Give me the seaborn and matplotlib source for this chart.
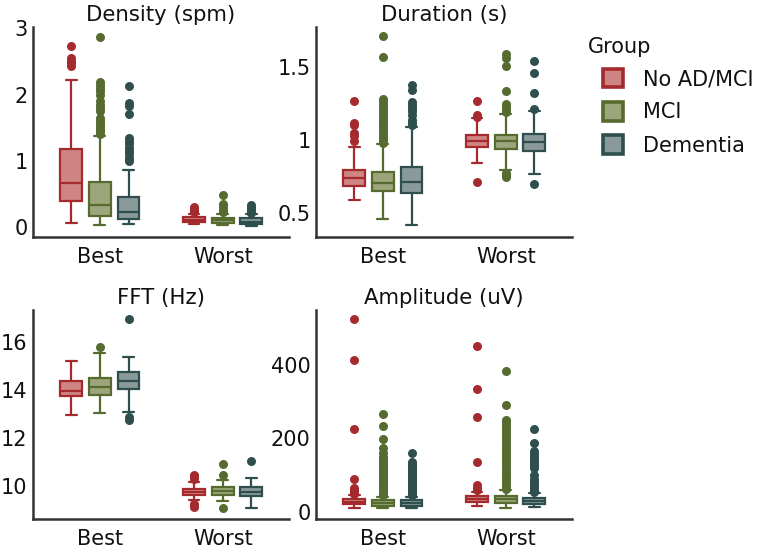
import numpy as np
import pandas as pd
import matplotlib
matplotlib.use("Agg")
import matplotlib.pyplot as plt
from matplotlib.patches import Patch
import seaborn as sns

# ---------------- data ----------------
groups = ["No AD/MCI", "MCI", "Dementia"]
conditions = ["Best", "Worst"]
edge_colors = ["#A52A2E", "#556B2F", "#2F4F4F"]
fill_colors = ["#CF8583", "#9DA57C", "#8A9A9A"]

titles = ["Density (spm)", "Duration (s)", "FFT (Hz)", "Amplitude (uV)"]
legend_title = "Group"

# five-number summaries: whisker low, Q1, median, Q3, whisker high
# row order: Best (No AD/MCI, MCI, Dementia), Worst (No AD/MCI, MCI, Dementia)
density_box = [
    [0.06, 0.40, 0.66, 1.18, 2.22],
    [0.03, 0.17, 0.34, 0.68, 1.38],
    [0.04, 0.12, 0.23, 0.46, 0.86],
    [0.04, 0.07, 0.11, 0.15, 0.20],
    [0.03, 0.06, 0.10, 0.14, 0.20],
    [0.02, 0.05, 0.08, 0.13, 0.19],
]
density_out = [
    [2.43, 2.47, 2.51, 2.55, 2.74],
    [1.40, 1.43, 1.46, 1.50, 1.53, 1.57, 1.60, 1.65, 1.75, 1.80, 1.85, 1.90,
     2.00, 2.05, 2.10, 2.15, 2.19, 2.87],
    [1.00, 1.05, 1.10, 1.15, 1.20, 1.25, 1.30, 1.35, 1.70, 1.82, 1.87, 2.13],
    [0.22, 0.25, 0.28, 0.31],
    [0.22, 0.25, 0.28, 0.32, 0.35, 0.48],
    [0.21, 0.24, 0.27, 0.30, 0.33],
]

duration_box = [
    [0.59, 0.685, 0.738, 0.795, 0.954],
    [0.457, 0.651, 0.708, 0.783, 0.973],
    [0.418, 0.635, 0.715, 0.817, 1.09],
    [0.84, 0.95, 0.995, 1.034, 1.15],
    [0.795, 0.936, 0.99, 1.034, 1.18],
    [0.767, 0.927, 0.984, 1.039, 1.20],
]
duration_out = [
    [0.99, 1.03, 1.05, 1.10, 1.12, 1.265],
    [0.98, 1.00, 1.02, 1.04, 1.06, 1.08, 1.10, 1.12, 1.14, 1.16, 1.18, 1.20,
     1.22, 1.24, 1.26, 1.28, 1.57, 1.71],
    [1.10, 1.12, 1.14, 1.17, 1.20, 1.22, 1.24, 1.26, 1.34, 1.38],
    [0.715, 1.16, 1.17, 1.265],
    [0.745, 0.76, 0.775, 1.19, 1.21, 1.23, 1.25, 1.335, 1.507, 1.56, 1.59],
    [0.70, 1.21, 1.32, 1.457, 1.54],
]

fft_box = [
    [12.96, 13.75, 13.97, 14.375, 15.22],
    [13.03, 13.78, 14.14, 14.49, 15.53],
    [13.07, 14.05, 14.39, 14.76, 15.39],
    [9.42, 9.625, 9.76, 9.86, 10.18],
    [9.35, 9.625, 9.79, 9.97, 10.25],
    [9.07, 9.58, 9.76, 9.95, 10.32],
]
fft_out = [
    [],
    [15.8],
    [12.75, 12.85, 16.94],
    [9.14, 9.20, 9.25, 10.30, 10.40, 10.46],
    [9.07, 10.46, 10.92],
    [11.05],
]

amplitude_box = [
    [11.7, 20.8, 28.0, 35.0, 46.0],
    [10.0, 17.0, 25.0, 32.6, 42.0],
    [10.0, 17.0, 24.0, 32.0, 42.0],
    [17.0, 28.0, 35.0, 43.0, 55.0],
    [10.0, 24.0, 34.5, 44.0, 60.0],
    [14.5, 22.0, 31.0, 37.0, 51.0],
]
amplitude_out = [
    [50, 55, 60, 64, 89, 226, 412, 524],
    [45, 50, 55, 60, 65, 70, 75, 80, 85, 90, 95, 100, 105, 110, 115, 120, 125,
     130, 135, 140, 145, 150, 160, 175, 199, 235, 266],
    [45, 50, 55, 60, 65, 70, 75, 80, 85, 90, 95, 100, 105, 110, 115, 120, 125,
     130, 137, 160],
    [60, 66, 73, 137, 259, 334, 450],
    [62, 70, 78, 86, 94, 102, 110, 118, 126, 134, 142, 150, 158, 166, 174, 182,
     190, 198, 206, 214, 222, 230, 238, 246, 250, 291, 382],
    [55, 60, 65, 70, 75, 80, 85, 90, 100, 120, 125, 130, 135, 140, 145, 150,
     158, 165, 188, 225],
]

y_ticks = [[0, 1, 2, 3], [0.5, 1, 1.5], [10, 12, 14, 16], [0, 200, 400]]
y_ticklabels = [["0", "1", "2", "3"], ["0.5", "1", "1.5"],
                ["10", "12", "14", "16"], ["0", "200", "400"]]
y_limits = [(-0.15, 3.02), (0.336, 1.774), (8.62, 17.33), (-19, 549)]

panels = [(density_box, density_out), (duration_box, duration_out),
          (fft_box, fft_out), (amplitude_box, amplitude_out)]

# ---------------- style ----------------
sns.set_theme(style="white")
plt.rcParams["font.family"] = ["DejaVu Sans"]
axis_color = "#333333"
text_color = "#111111"

fig = plt.figure(figsize=(7.71, 5.53), dpi=100)
rects = [
    [33 / 771, 1 - 237 / 553, 256 / 771, 210 / 553],
    [316 / 771, 1 - 237 / 553, 256 / 771, 210 / 553],
    [33 / 771, 1 - 519 / 553, 256 / 771, 209 / 553],
    [316 / 771, 1 - 519 / 553, 256 / 771, 209 / 553],
]

dodge_width = 0.7


def long_tables(box_rows, out_rows):
    box_recs, out_recs = [], []
    for i, (vals, outs) in enumerate(zip(box_rows, out_rows)):
        cond = conditions[i // 3]
        grp = groups[i % 3]
        box_recs += [(cond, grp, v) for v in vals]
        out_recs += [(cond, grp, v) for v in outs]
    cols = ["condition", "group", "value"]
    return pd.DataFrame(box_recs, columns=cols), pd.DataFrame(out_recs, columns=cols)


fill_map = dict(zip(groups, fill_colors))
cond_index = {c: i for i, c in enumerate(conditions)}

for k, (rect, (box_rows, out_rows)) in enumerate(zip(rects, panels)):
    ax = fig.add_axes(rect)
    box_df, out_df = long_tables(box_rows, out_rows)
    for g, (grp, ec) in enumerate(zip(groups, edge_colors)):
        sub = box_df[box_df["group"] == grp]
        sns.boxplot(data=sub, x="condition", y="value", hue="group",
                    order=conditions, hue_order=groups, palette=fill_map,
                    linecolor=ec, linewidth=1.6, width=dodge_width, gap=0.24,
                    whis=(0, 100), dodge=True, saturation=1, legend=False, ax=ax)
        o = out_df[out_df["group"] == grp]
        if len(o):
            xpos = o["condition"].map(cond_index) + (g - 1) * dodge_width / 3
            ax.scatter(xpos.to_numpy(), o["value"].to_numpy(), s=42, color=ec,
                       linewidths=0, zorder=3)
    ax.set_xlim(-0.545, 1.54)
    ax.set_ylim(*y_limits[k])
    ax.set_yticks(y_ticks[k])
    ax.set_yticklabels(y_ticklabels[k])
    ax.set_xlabel("")
    ax.set_ylabel("")
    ax.set_title(titles[k], fontsize=15.3, pad=4, color=text_color)
    for s in ["top", "right"]:
        ax.spines[s].set_visible(False)
    for s in ["left", "bottom"]:
        ax.spines[s].set_color(axis_color)
        ax.spines[s].set_linewidth(1.8)
    ax.tick_params(axis="both", length=0, labelsize=15, colors=text_color)
    ax.tick_params(axis="x", pad=7)
    ax.tick_params(axis="y", pad=4)
    ax.grid(False)
    ax.set_facecolor("white")

fig.text(588 / 771, 1 - 47 / 553, legend_title, fontsize=15, color=text_color,
         ha="left", va="center")
handles = [Patch(facecolor=fc, edgecolor=ec, linewidth=2.6)
           for fc, ec in zip(fill_colors, edge_colors)]
fig.legend(handles, groups, loc="upper left",
           bbox_to_anchor=(588 / 771, 1 - 54 / 553), frameon=False,
           fontsize=15, handlelength=1.0, handleheight=1.0, labelspacing=0.62,
           handletextpad=0.95, borderpad=0.2, labelcolor=text_color)

fig.savefig("out.png", dpi=100, facecolor="white")
